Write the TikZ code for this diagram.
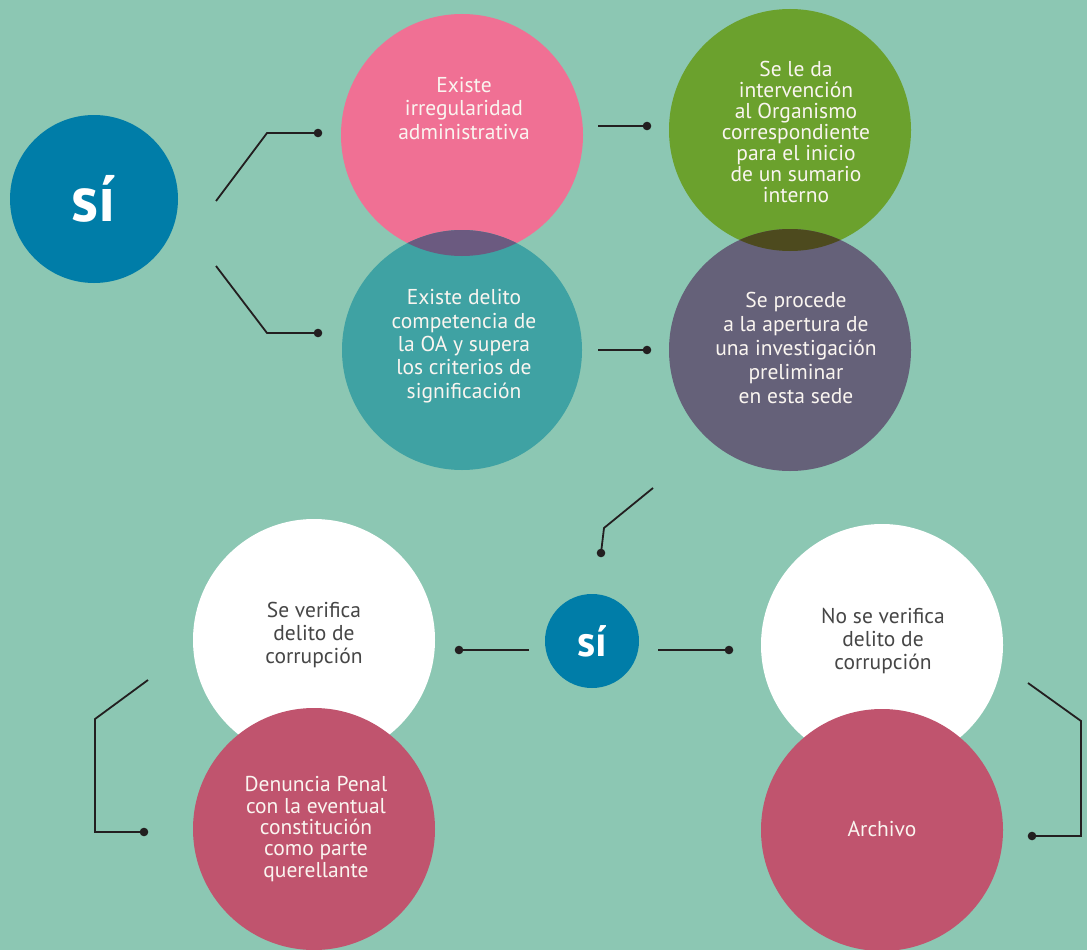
\documentclass[tikz,border=0pt]{standalone}
\usepackage{fontspec}
\setmainfont{PT Sans}
\definecolor{bgc}{RGB}{140,199,179}
\definecolor{bluec}{RGB}{0,125,168}
\definecolor{pinkc}{RGB}{240,112,148}
\definecolor{greenc}{RGB}{107,161,45}
\definecolor{tealc}{RGB}{63,162,163}
\definecolor{purplec}{RGB}{101,97,121}
\definecolor{ovA}{RGB}{107,90,128}
\definecolor{ovB}{RGB}{77,74,30}
\definecolor{redc}{RGB}{192,84,110}
\definecolor{linec}{RGB}{35,31,32}
\definecolor{darktext}{RGB}{70,70,70}
\definecolor{lighttext}{RGB}{250,245,240}
\tikzset{
  disc/.style={circle, inner sep=0pt, minimum size=242pt},
  lbl/.style={align=center, anchor=base, inner sep=0pt, text=lighttext, font=\fontsize{21.5}{23.5}\selectfont},
  dlbl/.style={lbl, text=darktext},
  conn/.style={draw=linec, line width=1.8pt, line join=miter},
  dotc/.style={fill=linec},
  yes/.style={circle, inner sep=0pt, fill=bluec, text=white, font=\bfseries}
}
\begin{document}
\begin{tikzpicture}[x=1pt,y=-1pt]
\fill[bgc] (0,0) rectangle (1087,950);
\useasboundingbox (0,0) rectangle (1087,950);
% centres
\coordinate (pC) at (462,135);
\coordinate (tC) at (462,350);
\coordinate (gC) at (790,130);
\coordinate (uC) at (790,350);
% big si
\node[yes, minimum size=168pt, font=\bfseries\fontsize{64}{64}\selectfont] (si1) at (94,199) {sí};
% top circles
\node[disc, fill=pinkc] (pink) at (pC) {};
\node[disc, fill=tealc, minimum size=240pt] (teal) at (tC) {};
\begin{scope}
  \clip (pC) circle (121);
  \fill[ovA] (tC) circle (120);
\end{scope}
\node[disc, fill=greenc] (green) at (gC) {};
\node[disc, fill=purplec] (purple) at (uC) {};
\begin{scope}
  \clip (gC) circle (121);
  \fill[ovB] (uC) circle (121);
\end{scope}
% bottom circles
\node[disc, fill=white] (wl) at (314,640) {};
\node[disc, fill=redc] (rl) at (314,829) {};
\node[disc, fill=white] (wr) at (882,645) {};
\node[disc, fill=redc] (rr) at (882,830) {};
% small si
\node[yes, minimum size=94pt, font=\bfseries\fontsize{43}{43}\selectfont] (si2) at (592,641) {sí};
% labels (anchor = baseline of last line)
\node[lbl, font=\fontsize{21.5}{23.5}\selectfont] (tp) at (464,139) {Existe\\irregularidad\\administrativa};
\node[lbl, font=\fontsize{21.5}{21}\selectfont] (tg) at (796,202) {Se le da\\intervención\\al Organismo\\correspondiente\\para el inicio\\de un sumario\\interno};
\node[lbl, font=\fontsize{21.5}{23.3}\selectfont] (tt) at (464,398) {Existe delito\\competencia de\\la OA y supera\\los criterios de\\significación};
\node[lbl, font=\fontsize{21.5}{23.8}\selectfont] (tu) at (796,403) {Se procede\\a la apertura de\\una investigación\\preliminar\\en esta sede};
\node[dlbl, font=\fontsize{21.5}{23}\selectfont] (twl) at (314,663) {Se verifica\\delito de\\corrupción};
\node[lbl, font=\fontsize{21.5}{21.3}\selectfont] (trl) at (316,877) {Denuncia Penal\\con la eventual\\constitución\\como parte\\querellante};
\node[dlbl, font=\fontsize{21.5}{23}\selectfont] (twr) at (883,669) {No se verifica\\delito de\\corrupción};
\node[lbl] (trr) at (882,836) {Archivo};
% connector end points
\coordinate (a1) at (216,201); \coordinate (a2) at (318,133);
\coordinate (b1) at (216,266); \coordinate (b2) at (318,333);
\coordinate (c1) at (598,126); \coordinate (c2) at (647,126);
\coordinate (d1) at (598,350); \coordinate (d2) at (647,350);
\coordinate (e1) at (653,488); \coordinate (e2) at (601,553);
\coordinate (f1) at (529,650); \coordinate (f2) at (459,650);
\coordinate (g1) at (658,650); \coordinate (g2) at (729,650);
\coordinate (h1) at (148,680); \coordinate (h2) at (144,832);
\coordinate (k1) at (1028,683); \coordinate (k2) at (1032,836);
% connectors
\draw[conn] (a1) -- (267,133) -- (a2);
\draw[conn] (b1) -- (267,333) -- (b2);
\draw[conn] (c1) -- (c2);
\draw[conn] (d1) -- (d2);
\draw[conn] (e1) -- (604,528) -- (e2);
\draw[conn] (f1) -- (f2);
\draw[conn] (g1) -- (g2);
\draw[conn] (h1) -- (95,719) -- (95,832) -- (h2);
\draw[conn] (k1) -- (1081,721) -- (1081,836) -- (k2);
\foreach \p in {a2,b2,c2,d2,e2,f2,g2,h2,k2} \fill[dotc] (\p) circle (4.3);
\end{tikzpicture}
\end{document}
